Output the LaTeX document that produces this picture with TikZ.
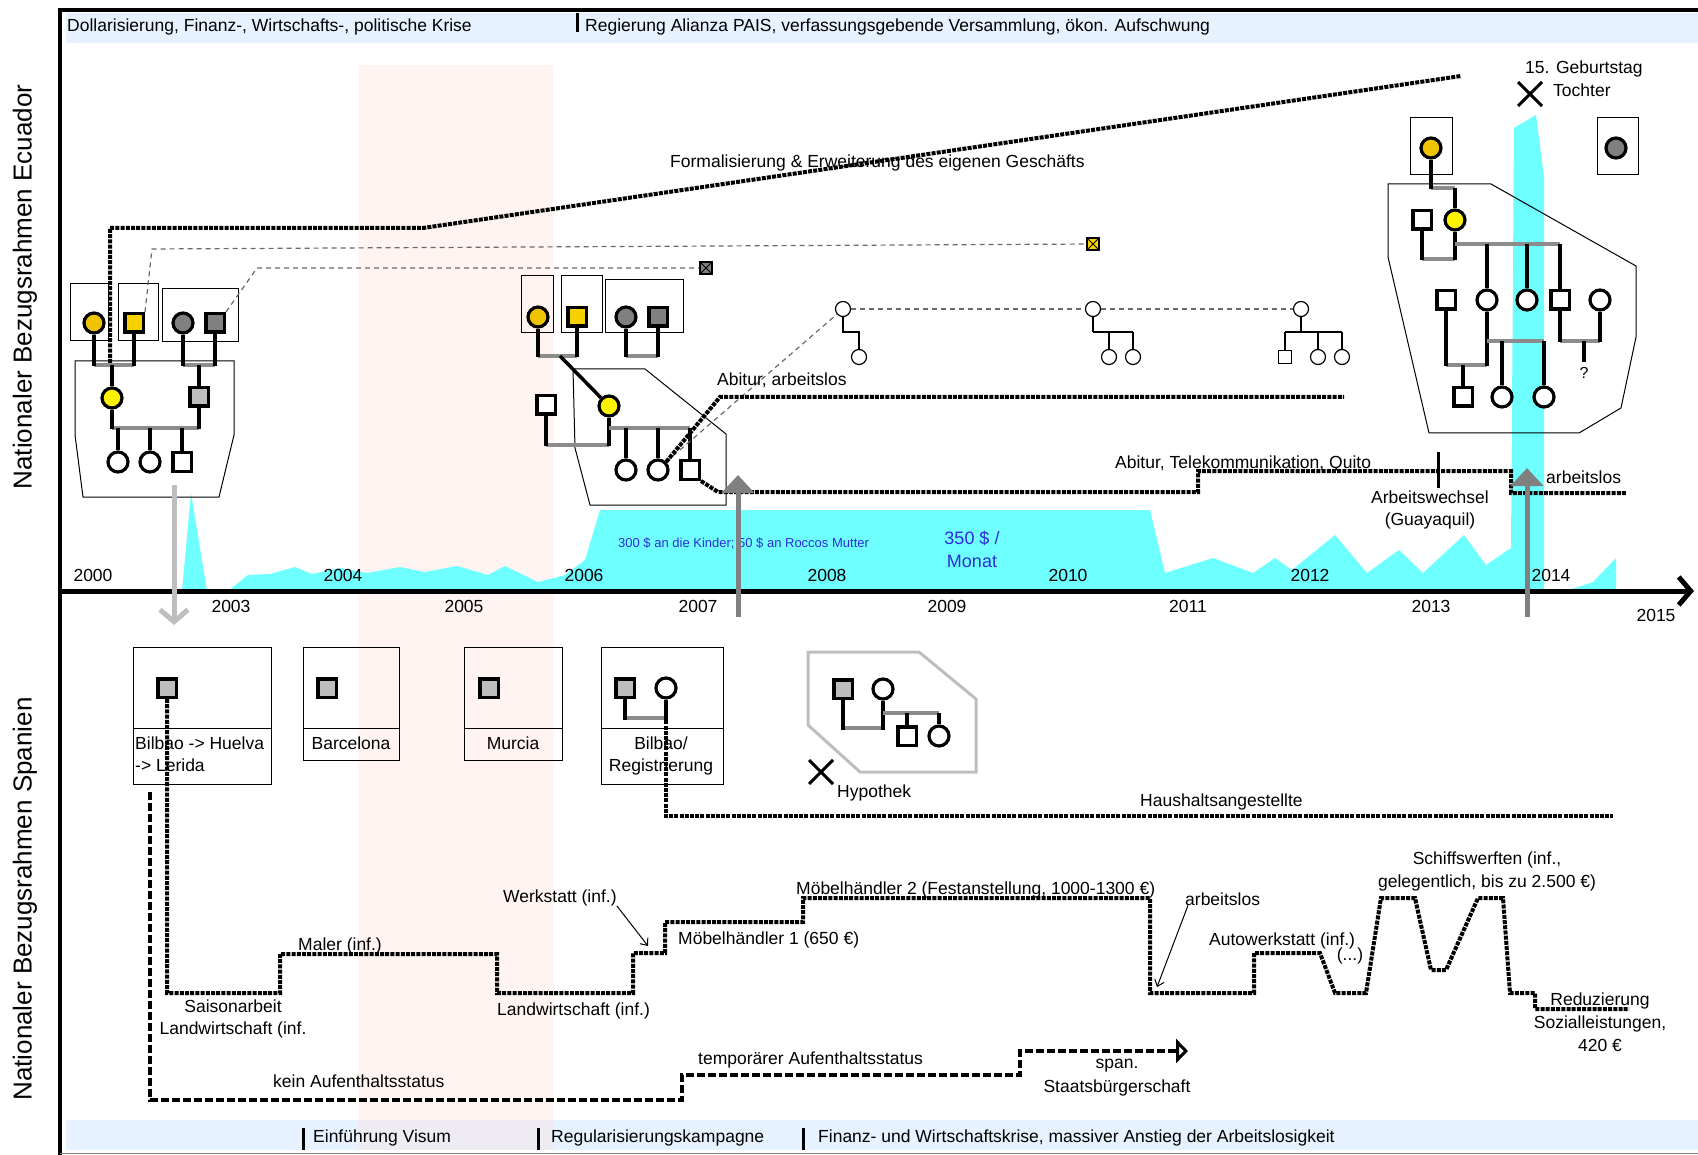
\documentclass[tikz,border=0pt]{standalone}
\usepackage{fontspec}
\setmainfont{Liberation Sans}
\usetikzlibrary{arrows.meta,shapes.misc}

\definecolor{bannerblue}{RGB}{230,242,255}
\definecolor{bandpink}{RGB}{255,226,222}
\definecolor{remit}{RGB}{110,255,255}
\definecolor{gold}{RGB}{240,195,0}
\definecolor{goldsq}{RGB}{247,210,0}
\definecolor{yel}{RGB}{255,242,0}
\definecolor{dgray}{RGB}{128,128,128}
\definecolor{lgray}{RGB}{190,190,190}
\definecolor{kingray}{RGB}{140,140,140}
\definecolor{linkgray}{RGB}{105,105,105}
\definecolor{moneyblue}{RGB}{45,45,215}
\definecolor{arrowgray}{RGB}{128,128,128}

\tikzset{
  lbl/.style={font=\fontsize{17.5}{21}\selectfont, inner sep=0pt},
  fem/.style={circle, draw, line width=3.2pt, minimum size=20pt, inner sep=0pt, fill=white},
  mal/.style={rectangle, draw, line width=3.5pt, minimum size=18.5pt, inner sep=0pt, fill=white},
  sfem/.style={circle, draw, line width=1.2pt, minimum size=15pt, inner sep=0pt, fill=white},
  smal/.style={rectangle, draw, line width=1.2pt, minimum size=12.5pt, inner sep=0pt, fill=white},
  dead/.style={rectangle, draw, line width=1.2pt, minimum size=12pt, inner sep=0pt,
    path picture={\draw[line width=1pt] (path picture bounding box.south west) -- (path picture bounding box.north east)
      (path picture bounding box.north west) -- (path picture bounding box.south east);}},
  kin/.style={line width=3.5pt},
  pair/.style={line width=3.5pt, draw=kingray},
  tree/.style={line width=1.2pt},
  life/.style={line width=4pt, dash pattern=on 4pt off 1.2pt},
  status/.style={line width=3.2pt, dash pattern=on 8pt off 3pt},
  link/.style={draw=linkgray, line width=1.2pt, dash pattern=on 5pt off 4pt},
  frame/.style={draw, line width=1pt},
  xmark/.style={cross out, draw, line width=3pt, minimum size=21pt, inner sep=0pt},
}

\begin{document}
\begin{tikzpicture}[x=1pt,y=-1pt]
\useasboundingbox (0,0) rectangle (1698,1155);

% Hintergrund: Baender und Zeitraum
\fill[bannerblue] (66,13) rectangle (1698,43);
\fill[bannerblue] (66,1120) rectangle (1698,1150);
\fill[bandpink, opacity=.38] (358,65) rectangle (554,1150);

% Ruecküberweisungen
\fill[remit] (182,591) -- (191,493) -- (207,591) -- cycle;
\fill[remit] (228,591) -- (248,575) -- (270,574) -- (295,567) -- (312,574) -- (340,568) -- (367,573)
  -- (400,567) -- (425,572) -- (457,566) -- (488,575) -- (505,566) -- (538,582) -- (565,575)
  -- (585,560) -- (600,510) -- (1150,510) -- (1165,573) -- (1213,558) -- (1253,573) -- (1275,558)
  -- (1292,570) -- (1335,535) -- (1367,573) -- (1399,550) -- (1423,573) -- (1464,535) -- (1486,565)
  -- (1511,548) -- (1514,128) -- (1536,115) -- (1544,177) -- (1544,591) -- cycle;
\fill[remit] (1566,591) -- (1593,582) -- (1616,558) -- (1616,591) -- cycle;

% Rahmen und Zeitachse
\draw[line width=4pt] (60,1155) -- (60,10) -- (1698,10);
\draw[gray, line width=1pt] (60,1153) -- (1698,1153);
\coordinate (ax0) at (60,591);
\coordinate (ax1) at (1694,591);
\draw[line width=5pt, -{Straight Barb[length=12pt,width=28pt]}] (ax0) -- (ax1);

\foreach \yr/\xx in {2000/93,2004/343,2006/584,2008/827,2010/1068,2012/1310,2014/1551}
  \node[lbl, anchor=base] (yr\yr) at (\xx,581) {\yr};
\foreach \yr/\xx in {2003/231,2005/464,2007/698,2009/947,2011/1188,2013/1431}
  \node[lbl, anchor=base] (yr\yr) at (\xx,612) {\yr};
\node[lbl, anchor=base] (yr2015) at (1656,621) {2015};

\node[rotate=90, font=\fontsize{26}{30}\selectfont, inner sep=0pt] (ecu) at (25,287) {Nationaler Bezugsrahmen Ecuador};
\node[rotate=90, font=\fontsize{26}{30}\selectfont, inner sep=0pt] (esp) at (25,899) {Nationaler Bezugsrahmen Spanien};

% Kontext oben und unten
\node[lbl, anchor=base west] (krise) at (67,32) {Dollarisierung, Finanz-, Wirtschafts-, politische Krise};
\draw[line width=3pt] (577,13) -- (577,32);
\node[lbl, anchor=base west] (pais) at (585,32) {Regierung Alianza PAIS, verfassungsgebende Versammlung, ökon. Aufschwung};
\foreach \xx in {303,538,803}
  \draw[line width=3pt] (\xx,1128) -- (\xx,1150);
\node[lbl, anchor=base west] (visum) at (313,1142) {Einführung Visum};
\node[lbl, anchor=base west] (regul) at (551,1142) {Regularisierungskampagne};
\node[lbl, anchor=base west] (fkrise) at (818,1142) {Finanz- und Wirtschaftskrise, massiver Anstieg der Arbeitslosigkeit};

% Familie 2000
\draw[frame] (70,284) rectangle (108,341);
\draw[frame] (118,284) rectangle (158,341);
\draw[frame] (162,289) rectangle (238,342);
\draw[frame] (75,361) -- (234,361) -- (234,435) -- (219,497) -- (83,497) -- (75,435) -- cycle;
\node[fem, fill=gold] (gmA) at (94,323) {};
\node[mal, fill=goldsq] (gfA) at (134,323) {};
\node[fem, fill=dgray] (omA) at (183,323) {};
\node[mal, fill=dgray] (opA) at (215,323) {};
\node[fem, fill=yel] (moA) at (112,398) {};
\node[mal, fill=lgray] (faA) at (199,397) {};
\node[fem] (kA1) at (118,462) {};
\node[fem] (kA2) at (150,462) {};
\node[mal] (kA3) at (182,462) {};
\draw[pair] (gmA |- 0,365) -- (gfA |- 0,365);
\draw[pair] (omA |- 0,365) -- (opA |- 0,365);
\foreach \n in {gmA,gfA,omA,opA}
  \draw[kin] (\n) -- (\n |- 0,366.5);
\draw[kin] (moA |- 0,365) -- (moA);
\draw[kin] (faA |- 0,365) -- (faA);
\draw[pair] (moA |- 0,428) -- (faA |- 0,428);
\draw[kin] (moA) -- (moA |- 0,429.5);
\draw[kin] (faA) -- (faA |- 0,429.5);
\foreach \k in {kA1,kA2,kA3}
  \draw[kin] (\k |- 0,428) -- (\k);

% Geschaeft der Mutter
\draw[life] (110,363) -- (110,228) -- (423,228) -- (1461,76);
\node[lbl, anchor=base west] (gesch) at (670,168) {Formalisierung \& Erweiterung des eigenen Geschäfts};

% verstorbene Grosseltern
\node[dead, fill=goldsq] (xg) at (1093,244) {};
\node[dead, fill=dgray] (xd) at (706,268) {};
\draw[link] (gfA.north east) -- (152,249) -- (xg);
\draw[link] (opA.north east) -- (257,268) -- (xd);

% Familie 2006
\draw[frame] (521,276) rectangle (553,333);
\draw[frame] (561,276) rectangle (602,333);
\draw[frame] (605,280) rectangle (683,333);
\draw[frame] (573,369) -- (645,369) -- (726,434) -- (726,505) -- (590,505) -- (575,448) -- cycle;
\node[fem, fill=gold] (gmB) at (538,317) {};
\node[mal, fill=goldsq] (gfB) at (577,317) {};
\node[fem, fill=dgray] (omB) at (626,317) {};
\node[mal, fill=dgray] (opB) at (658,317) {};
\node[mal] (paB) at (546,405) {};
\node[fem, fill=yel] (moB) at (609,406) {};
\node[fem] (kB1) at (626,470) {};
\node[fem] (kB2) at (658,470) {};
\node[mal] (kB3) at (690,470) {};
\coordinate (jB) at (560,356);
\draw[pair] (gmB |- jB) -- (gfB |- jB);
\draw[pair] (omB |- jB) -- (opB |- jB);
\foreach \n in {gmB,gfB,omB,opB}
  \draw[kin] (\n) -- (\n |- 0,357.5);
\draw[kin] (jB) -- (moB);
\draw[pair] (paB |- 0,445) -- (moB |- 0,445);
\draw[kin] (paB) -- (paB |- 0,446.5);
\draw[kin] (moB) -- (moB |- 0,446.5);
\draw[pair] (moB |- 0,428) -- (kB3 |- 0,428);
\foreach \k in {kB1,kB2,kB3}
  \draw[kin] (\k |- 0,428) -- (\k);

% Kinder: kleine Stammbaeume
\node[sfem] (p1) at (843,309) {};
\node[sfem] (p1a) at (859,357) {};
\node[sfem] (p2) at (1093,309) {};
\node[sfem] (p2a) at (1109,357) {};
\node[sfem] (p2b) at (1133,357) {};
\node[sfem] (p3) at (1301,309) {};
\node[smal] (p3a) at (1285,357) {};
\node[sfem] (p3b) at (1318,357) {};
\node[sfem] (p3c) at (1342,357) {};
\draw[tree] (p1) -- (p1 |- 0,332) -- (p1a |- 0,332) -- (p1a);
\draw[tree] (p2) -- (p2 |- 0,332);
\draw[tree] (p2 |- 0,332) -- (p2b |- 0,332);
\foreach \k in {p2a,p2b,p3a,p3b,p3c}
  \draw[tree] (\k |- 0,332) -- (\k);
\draw[tree] (p3) -- (p3 |- 0,332);
\draw[tree] (p3a |- 0,332) -- (p3c |- 0,332);
\draw[link] (p1) -- (p2);
\draw[link] (p2) -- (p3);
\draw[link] (kB2.north east) -- (p1);

% Bildungs- und Arbeitswege der Kinder
\draw[life] (kB2.north east) -- (720,397) -- (1344,397);
\node[lbl, anchor=base west] (abi1) at (717,386) {Abitur, arbeitslos};
\draw[life] (kB3.south east) -- (718,492) -- (1198,492) -- (1198,471) -- (1511,471) -- (1511,493) -- (1626,493);
\node[lbl, anchor=base west] (abi2) at (1115,468) {Abitur, Telekommunikation, Quito};
\coordinate (tw0) at (1438,452);
\coordinate (tw1) at (1438,488);
\draw[line width=3pt] (tw0) -- (tw1);
\node[lbl, anchor=base] (wechs) at (1430,503) {Arbeitswechsel};
\node[lbl, anchor=base] (guaya) at (1430,525) {(Guayaquil)};
\node[lbl, anchor=base west] (arbE) at (1546,483) {arbeitslos};

% Geldbetraege
\node[font=\fontsize{13}{15}\selectfont, text=moneyblue, anchor=base west, inner sep=0pt] (kinder) at (618,547) {300 \$ an die Kinder; 50 \$ an Roccos Mutter};
\node[font=\fontsize{18}{21}\selectfont, text=moneyblue, anchor=base, inner sep=0pt] (monat1) at (972,544) {350 \$ /};
\node[font=\fontsize{18}{21}\selectfont, text=moneyblue, anchor=base, inner sep=0pt] (monat2) at (972,567) {Monat};

% Familie 2013
\draw[frame] (1410,118) rectangle (1452,175);
\draw[frame] (1597,118) rectangle (1638,175);
\draw[frame] (1388,184) -- (1491,184) -- (1636,266) -- (1636,337) -- (1621,408) -- (1579,433) -- (1429,433) -- (1388,257) -- cycle;
\node[fem, fill=gold] (gmC) at (1431,148) {};
\node[fem, fill=dgray] (omC) at (1616,148) {};
\node[mal] (paC) at (1422,220) {};
\node[fem, fill=yel] (moC) at (1455,220) {};
\node[mal] (kC1) at (1446,300) {};
\node[fem] (kC2) at (1487,300) {};
\node[fem] (kC3) at (1527,300) {};
\node[mal] (kC4) at (1560,300) {};
\node[fem] (kC5) at (1600,300) {};
\node[mal] (eC1) at (1463,397) {};
\node[fem] (eC2) at (1502,397) {};
\node[fem] (eC3) at (1544,397) {};
\draw[pair] (gmC |- 0,188) -- (moC |- 0,188);
\draw[kin] (gmC) -- (gmC |- 0,189.5);
\draw[kin] (moC |- 0,188) -- (moC);
\draw[pair] (paC |- 0,259) -- (moC |- 0,259);
\draw[kin] (paC) -- (paC |- 0,260.5);
\draw[kin] (moC) -- (moC |- 0,260.5);
\draw[pair] (moC |- 0,244) -- (kC4 |- 0,244);
\foreach \k in {kC2,kC3,kC4}
  \draw[kin] (\k |- 0,244) -- (\k);
\draw[pair] (kC1 |- 0,365) -- (kC2 |- 0,365);
\draw[kin] (kC1) -- (kC1 |- 0,366.5);
\draw[kin] (kC2) -- (kC2 |- 0,366.5);
\draw[kin] (eC1 |- 0,365) -- (eC1);
\draw[pair] (kC2 |- 0,341) -- (eC3 |- 0,341);
\draw[kin] (eC2 |- 0,341) -- (eC2);
\draw[kin] (eC3 |- 0,341) -- (eC3);
\draw[pair] (kC4 |- 0,341) -- (kC5 |- 0,341);
\draw[kin] (kC4) -- (kC4 |- 0,342.5);
\draw[kin] (kC5) -- (kC5 |- 0,342.5);
\coordinate (qC0) at (1584,341);
\coordinate (qC1) at (1584,362);
\draw[kin] (qC0) -- (qC1);
\node[font=\fontsize{16}{18}\selectfont, inner sep=0pt, anchor=base] (qm) at (1584,379) {?};
\node[xmark] (xT) at (1530,94) {};
\node[lbl, anchor=base west] (gebt) at (1525,74) {15. Geburtstag};
\node[lbl, anchor=base west] (tocht) at (1553,97) {Tochter};

% Migrationspfeile
\coordinate (dn0) at (174,485);
\coordinate (dn1) at (174,625);
\draw[lgray, line width=5pt, -{Straight Barb[length=12pt,width=28pt]}] (dn0) -- (dn1);
\coordinate (upA0) at (738,617);
\coordinate (upA1) at (738,475);
\draw[arrowgray, line width=5pt, -{Triangle[length=18pt,width=32pt]}] (upA0) -- (upA1);
\coordinate (upB0) at (1527,617);
\coordinate (upB1) at (1527,468);
\draw[arrowgray, line width=5pt, -{Triangle[length=18pt,width=32pt]}] (upB0) -- (upB1);

% Spanien: Orte
\draw[frame] (133,647) rectangle (271,784);
\draw[frame] (133,728) -- (271,728);
\node[mal, fill=lgray] (faS1) at (167,688) {};
\node[lbl, anchor=base west] (ortS1) at (135,749) {Bilbao -> Huelva};
\node[lbl, anchor=base west] (ortS1b) at (135,771) {-> Lerida};
\draw[frame] (303,647) rectangle (399,760);
\draw[frame] (303,728) -- (399,728);
\node[mal, fill=lgray] (faS2) at (327,688) {};
\node[lbl, anchor=base] (ortS2) at (351,749) {Barcelona};
\draw[frame] (464,647) rectangle (562,760);
\draw[frame] (464,728) -- (562,728);
\node[mal, fill=lgray] (faS3) at (489,688) {};
\node[lbl, anchor=base] (ortS3) at (513,749) {Murcia};
\draw[frame] (601,647) rectangle (723,784);
\draw[frame] (601,728) -- (723,728);
\node[mal, fill=lgray] (faS4) at (625,688) {};
\node[fem] (moS4) at (666,688) {};
\draw[pair] (faS4 |- 0,718) -- (moS4 |- 0,718);
\draw[kin] (faS4) -- (faS4 |- 0,719.5);
\draw[kin] (moS4) -- (moS4 |- 0,719.5);
\node[lbl, anchor=base] (ortS4) at (661,749) {Bilbao/};
\node[lbl, anchor=base] (ortS4b) at (661,771) {Registrierung};

% Familie in Spanien
\draw[lgray, line width=3pt] (808,652) -- (919,652) -- (976,699) -- (976,772) -- (860,772) -- (808,725) -- cycle;
\node[mal, fill=lgray] (faS5) at (843,689) {};
\node[fem] (moS5) at (883,689) {};
\node[mal] (soS5) at (907,736) {};
\node[fem] (toS5) at (939,736) {};
\draw[pair] (faS5 |- 0,728) -- (moS5 |- 0,728);
\draw[kin] (faS5) -- (faS5 |- 0,729.5);
\draw[kin] (moS5) -- (moS5 |- 0,729.5);
\draw[pair] (moS5 |- 0,713) -- (toS5 |- 0,713);
\draw[kin] (soS5 |- 0,713) -- (soS5);
\draw[kin] (toS5 |- 0,713) -- (toS5);
\node[xmark] (xH) at (821,772) {};
\node[lbl, anchor=base west] (hypo) at (837,797) {Hypothek};

% Arbeitswege in Spanien
\draw[life] (moS4) -- (moS4 |- 0,816) -- (1613,816);
\node[lbl, anchor=base west] (haus) at (1140,806) {Haushaltsangestellte};
\draw[life] (faS1) -- (167,993) -- (280,993) -- (280,954) -- (497,954) -- (497,993) -- (633,993)
  -- (633,953) -- (665,953) -- (665,922) -- (803,922) -- (803,898) -- (1150,898) -- (1150,993)
  -- (1254,993) -- (1254,953) -- (1320,953) -- (1335,993) -- (1366,993) -- (1381,898) -- (1415,898)
  -- (1431,970) -- (1446,970) -- (1478,898) -- (1503,898) -- (1510,993) -- (1535,993) -- (1535,1009) -- (1629,1009);
\node[lbl, anchor=base] (sais1) at (233,1012) {Saisonarbeit};
\node[lbl, anchor=base] (sais2) at (233,1034) {Landwirtschaft (inf.};
\node[lbl, anchor=base west] (maler) at (298,950) {Maler (inf.)};
\node[lbl, anchor=base west] (landw) at (497,1015) {Landwirtschaft (inf.)};
\node[lbl, anchor=base west] (werk) at (503,902) {Werkstatt (inf.)};
\coordinate (werkE) at (648,946);
\draw[line width=1pt, -{Straight Barb[length=6pt,width=10pt]}] (werk.south east) -- (werkE);
\node[lbl, anchor=base west] (moeb1) at (678,944) {Möbelhändler 1 (650 €)};
\node[lbl, anchor=base west] (moeb2) at (796,894) {Möbelhändler 2 (Festanstellung, 1000-1300 €)};
\node[lbl, anchor=base west] (arbS) at (1185,905) {arbeitslos};
\coordinate (arbE) at (1157,987);
\draw[line width=1pt, -{Straight Barb[length=6pt,width=10pt]}] ([xshift=3pt]arbS.south west) -- (arbE);
\node[lbl, anchor=base west] (auto) at (1209,945) {Autowerkstatt (inf.)};
\node[lbl, anchor=base] (etc) at (1350,960) {(...)};
\node[lbl, anchor=base] (schiff1) at (1487,864) {Schiffswerften (inf.,};
\node[lbl, anchor=base] (schiff2) at (1487,887) {gelegentlich, bis zu 2.500 €)};
\node[lbl, anchor=base] (sozi1) at (1600,1005) {Reduzierung};
\node[lbl, anchor=base] (sozi2) at (1600,1028) {Sozialleistungen,};
\node[lbl, anchor=base] (sozi3) at (1600,1051) {420 €};

% Aufenthaltsstatus
\draw[status, -{Triangle[open, length=12pt, width=24pt]}] (150,792) -- (150,1100) -- (682,1100) -- (682,1075)
  -- (1020,1075) -- (1020,1051) -- (1188,1051);
\node[lbl, anchor=base west] (kein) at (273,1087) {kein Aufenthaltsstatus};
\node[lbl, anchor=base west] (temp) at (698,1064) {temporärer Aufenthaltsstatus};
\node[lbl, anchor=base] (span1) at (1117,1068) {span.};
\node[lbl, anchor=base] (span2) at (1117,1092) {Staatsbürgerschaft};
\end{tikzpicture}
\end{document}
